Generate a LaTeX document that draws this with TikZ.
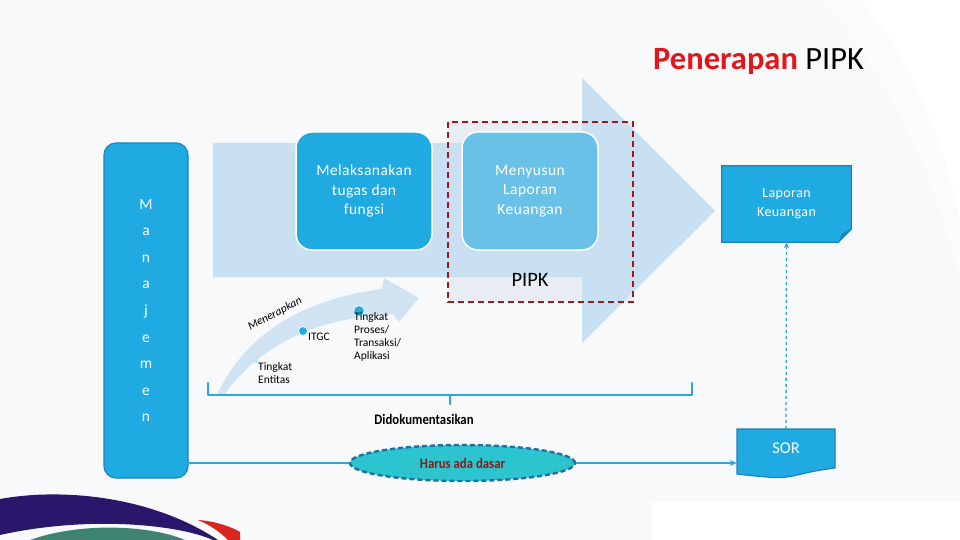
\documentclass[tikz,border=0pt]{standalone}
\usepackage{fontspec}
\setmainfont{Carlito}
\newfontfamily\narrowfont[FakeStretch=0.88]{Carlito}
\newfontfamily\spacedfont[LetterSpace=3]{Carlito}
\usetikzlibrary{positioning,shapes.geometric,arrows.meta}

\definecolor{pagebg}{HTML}{F8F9FA}
\definecolor{boxblue}{HTML}{1FAAE1}
\definecolor{lightbox}{HTML}{6AC1E8}
\definecolor{arrowblue}{HTML}{C9DFF2}
\definecolor{curveblue}{HTML}{CFE3F3}
\definecolor{edgeblue}{HTML}{1B84B8}
\definecolor{lineblue}{HTML}{2AA7DC}
\definecolor{dashblue}{HTML}{3A9FD0}
\definecolor{ellfill}{HTML}{2CC4CE}
\definecolor{elledge}{HTML}{1F6FA2}
\definecolor{harusred}{HTML}{8B1A1A}
\definecolor{titlered}{HTML}{E2161C}
\definecolor{pipkred}{HTML}{A3161D}
\definecolor{pipktint}{HTML}{E3EAF0}
\definecolor{logonavy}{HTML}{2A176B}
\definecolor{logogreen}{HTML}{3E8270}
\definecolor{logored}{HTML}{D8261E}

\begin{document}
\begin{tikzpicture}[x=1pt, y=-1pt,
  roundbox/.style={rounded corners=16pt, draw=white, line width=1.5pt,
    minimum width=136pt, minimum height=118pt, text=white, align=center,
    font=\spacedfont\fontsize{15.5}{19.5}\selectfont},
  smalltext/.style={inner sep=0pt, align=left, font=\fontsize{11.5}{13}\selectfont},
  dotmark/.style={circle, fill=boxblue, draw=white, line width=0.8pt, inner sep=0pt}]

\useasboundingbox (0,0) rectangle (960,540);

% ===== BACKGROUND =====
\fill[pagebg] (0,0) rectangle (960,540);
\fill[gray!3] (820,0) .. controls (880,60) and (935,170) .. (960,280)
  -- (960,0) -- cycle;
\fill[white] (860,0) .. controls (905,50) and (942,130) .. (960,220)
  -- (960,0) -- cycle;
\fill[white] (652,502) rectangle (960,540);
\fill[logonavy] (0,499) .. controls (60,488) and (150,495) .. (218,540)
  -- (213,540) .. controls (180,525) and (90,515) .. (0,535) -- cycle;
\fill[logogreen] (30,540) .. controls (80,522) and (150,525) .. (185,540) -- cycle;
\fill[logored] (198,520) .. controls (215,521) and (232,527) .. (240,532)
  -- (240,540) -- (228,540) .. controls (220,532) and (210,525) .. (198,520) -- cycle;

% ===== TITLE =====
\node[anchor=base west, inner sep=0pt, font=\fontsize{32.5}{32.5}\selectfont] (title) at (653,70)
  {\textcolor{titlered}{\bfseries Penerapan} PIPK};

% ===== BIG ARROW + PIPK FRAME =====
\fill[pipktint, opacity=0.8] (448,122) rectangle (633,302);
\fill[arrowblue] (213,143) -- (582,143) -- (582,78) -- (715,211) -- (582,343)
  -- (582,277) -- (213,277) -- cycle;
\node[roundbox, fill=boxblue] (tugas) at (364,191) {Melaksanakan\\tugas dan\\fungsi};
\node[roundbox, fill=lightbox] (susun) at (530,191) {Menyusun\\Laporan\\Keuangan};
\draw[pipkred, line width=2.2pt, dash pattern=on 6pt off 4pt] (448,122) rectangle (633,302);
\node[font=\fontsize{20.5}{20.5}\selectfont] (pipk) at (530,280) {PIPK};

% ===== MANAJEMEN =====
\node[draw=edgeblue, fill=boxblue, rounded corners=12pt, line width=1.2pt,
  minimum width=84pt, minimum height=335pt, text=white, align=center,
  font=\fontsize{15.5}{26.6}\selectfont] (man) at (146,310.5)
  {M\\a\\n\\a\\j\\e\\m\\e\\n};

% ===== MENERAPKAN =====
\fill[curveblue] (217,395) .. controls (245,335) and (300,300) .. (382,289)
  -- (384,278) -- (419,298) -- (399,322) -- (393,314)
  .. controls (315,318) and (260,345) .. (224,395) -- cycle;
\node[rotate=28, inner sep=0pt, font=\itshape\fontsize{11.5}{11.5}\selectfont] (terap) at (275,314) {Menerapkan};
\node[dotmark, minimum size=3pt, fill=white, draw=boxblue!40] (dentitas) at (256,361) {};
\node[dotmark, minimum size=9pt] (ditgc) at (303,331) {};
\node[dotmark, minimum size=11pt] (dproses) at (359,311) {};
\node[smalltext, anchor=north west] (entitas) at (258,362) {Tingkat\\Entitas};
\node[smalltext, anchor=west] (itgc) at (308,337) {ITGC};
\node[smalltext, anchor=north west] (proses) at (354,312) {Tingkat\\Proses/\\Transaksi/\\Aplikasi};

% ===== DIDOKUMENTASIKAN =====
\draw[lineblue, line width=2.5pt, line join=round, line cap=round]
  (208,383) -- (208,395) -- (692,395) -- (692,383);
\draw[lineblue, line width=2.5pt, line cap=round] (450,395) -- (450,404);
\node[font=\narrowfont\bfseries\fontsize{14.5}{14.5}\selectfont] (doku) at (424,419) {Didokumentasikan};

% ===== LAPORAN KEUANGAN + SOR =====
\node[minimum width=129pt, minimum height=76pt] (lap) at (786.5,204) {};
\fill[boxblue, draw=edgeblue, line width=1.2pt] (lap.north west) -- (lap.north east)
  -- ([yshift=13pt]lap.south east) -- ([xshift=-13pt]lap.south east)
  -- (lap.south west) -- cycle;
\fill[edgeblue] ([yshift=13pt]lap.south east) -- ([xshift=-13pt]lap.south east)
  -- ([xshift=-9pt,yshift=9pt]lap.south east) -- cycle;
\node[text=white, align=center, font=\spacedfont\fontsize{14}{19}\selectfont]
  (laptext) at (lap) {Laporan\\Keuangan};

\node[minimum width=98pt, minimum height=40pt] (sor) at (786,449) {};
\fill[boxblue, draw=edgeblue, line width=1.2pt] (737,429) -- (835,429) -- (835,468)
  .. controls (800,472) and (790,480) .. (767,477)
  .. controls (755,476) and (745,475) .. (737,474) -- cycle;
\node[text=white, font=\fontsize{16.5}{16.5}\selectfont] (sortext) at (786,448) {SOR};

\draw[dashblue, line width=1.3pt, dashed, -{Stealth[length=6pt,width=5pt]}] (sor.north) -- (lap.south);

% ===== HARUS ADA DASAR =====
\node[ellipse, fill=ellfill, draw=elledge, line width=2.4pt, dash pattern=on 5pt off 3pt,
  minimum width=225pt, minimum height=36pt, text=harusred,
  font=\narrowfont\bfseries\fontsize{14.5}{14.5}\selectfont] (dasar) at (462.5,463) {Harus ada dasar};
\draw[lineblue, line width=1.5pt] (man.east |- dasar.west) -- (dasar.west);
\draw[lineblue, line width=1.5pt, -{Stealth[length=7pt,width=6pt]}] (dasar.east) -- (sor.west |- dasar.east);

\end{tikzpicture}
\end{document}
